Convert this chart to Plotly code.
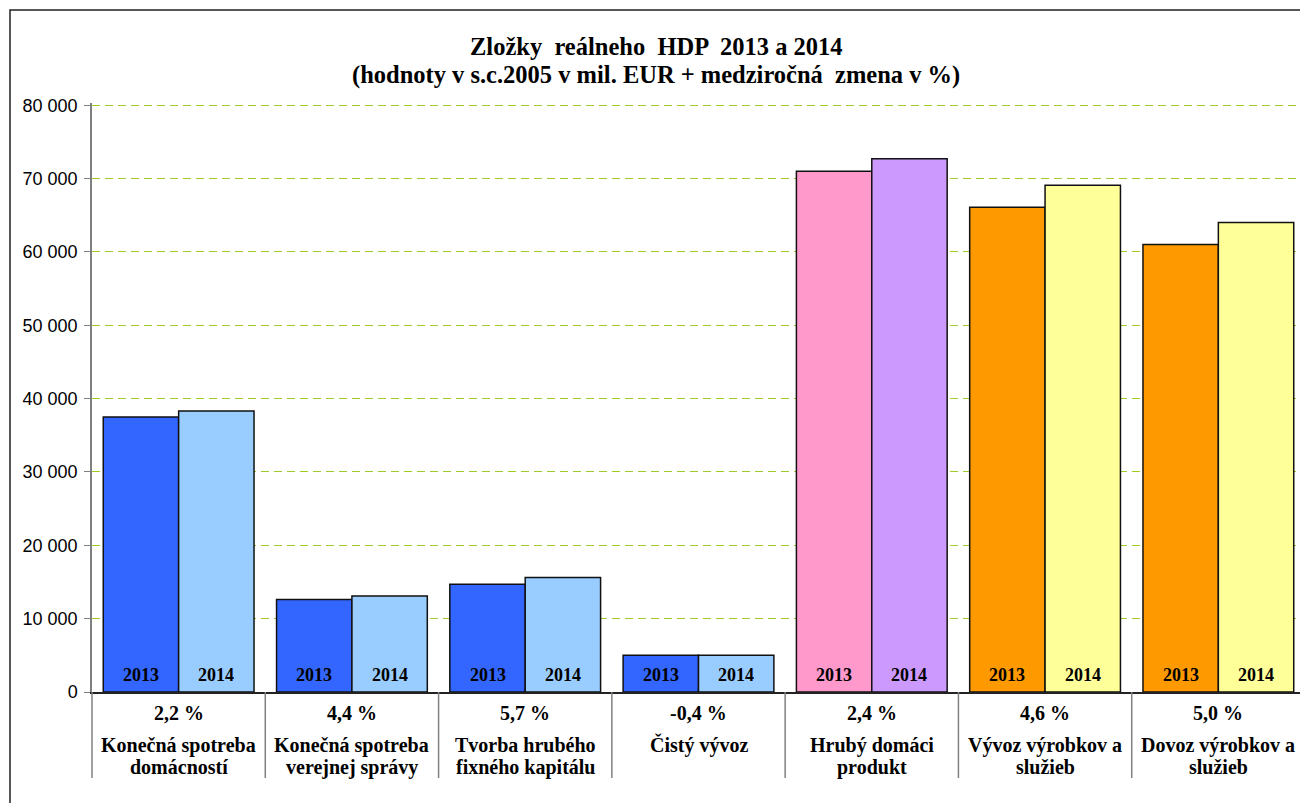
import plotly.graph_objects as go

# data
categories = ["Konečná spotreba<br>domácností", "Konečná spotreba<br>verejnej správy",
              "Tvorba hrubého<br>fixného kapitálu", "Čistý vývoz",
              "Hrubý domáci<br>produkt", "Vývoz výrobkov a<br>služieb",
              "Dovoz výrobkov a<br>služieb"]
changes = ["2,2 %", "4,4 %", "5,7 %", "-0,4 %", "2,4 %", "4,6 %", "5,0 %"]
years = ["2013", "2014"]
values_2013 = [37500, 12600, 14700, 5000, 71000, 66100, 61000]
values_2014 = [38300, 13100, 15600, 5000, 72700, 69100, 64000]
colors_2013 = ["#3366FF", "#3366FF", "#3366FF", "#3366FF", "#FF99CC", "#FF9900", "#FF9900"]
colors_2014 = ["#99CCFF", "#99CCFF", "#99CCFF", "#99CCFF", "#CC99FF", "#FFFF99", "#FFFF99"]
y_ticks = [0, 10000, 20000, 30000, 40000, 50000, 60000, 70000, 80000]
y_ticktext = ["0", "10 000", "20 000", "30 000", "40 000", "50 000", "60 000", "70 000", "80 000"]

SERIF = "Liberation Serif"
SANS = "Liberation Sans"
n = len(categories)
x = list(range(n))

# page body has an 8px margin, so the figure is sized/offset to compensate
W, H = 1300, 795
ML, MR, MT, MB = 84, 3, 95, 111
plot_w = W - ML - MR
plot_h = H - MT - MB
BARGAP = 0.13
bar_px = plot_w / n * (1 - BARGAP) / 2
X0, Y0 = 8 + ML, 8 + H - MB  # page position of plot's bottom-left corner


def px_x(p):
    return (p - X0) / plot_w


def px_y(p):
    return (Y0 - p) / plot_h


fig = go.Figure()
for year, vals, cols in [(years[0], values_2013, colors_2013), (years[1], values_2014, colors_2014)]:
    fig.add_trace(go.Bar(
        x=x, y=vals, name=year,
        marker=dict(color=cols, line=dict(color="#111111", width=1.5)),
        hovertemplate="%{y:,.0f}<extra>" + year + "</extra>",
    ))

# year labels at the foot of each bar
for i in range(n):
    for k, year in enumerate(years):
        fig.add_annotation(x=i, xref="x", y=0, yref="y", yanchor="middle",
                           xshift=(k - 0.5) * bar_px, yshift=17,
                           text="<b>" + year + "</b>", showarrow=False,
                           font=dict(family=SERIF, size=18, color="black"))

# category labels below the axis
for i in range(n):
    fig.add_annotation(x=i, xref="x", y=px_y(713), yref="paper", yanchor="middle",
                       text="<b>" + changes[i] + "</b>", showarrow=False,
                       font=dict(family=SERIF, size=20, color="black"))
    for j, line in enumerate(categories[i].split("<br>")):
        fig.add_annotation(x=i, xref="x", y=px_y(745 + 22 * j), yref="paper",
                           yanchor="middle", text="<b>" + line + "</b>", showarrow=False,
                           font=dict(family=SERIF, size=20, color="black"))

# title (two lines)
for text, ypx in [("Zložky  reálneho  HDP  2013 a 2014", 47),
                  ("(hodnoty v s.c.2005 v mil. EUR + medziročná  zmena v %)", 75)]:
    fig.add_annotation(x=px_x(656), xref="paper", y=px_y(ypx), yref="paper",
                       yanchor="middle", text="<b>" + text + "</b>", showarrow=False,
                       font=dict(family=SERIF, size=24.5, color="black"))

# divider lines between categories
for i in range(n + 1):
    fig.add_shape(type="line", xref="paper", yref="paper", x0=i / n, x1=i / n,
                  y0=0, y1=px_y(778), line=dict(color="#808080", width=1.5))

# outer frame (top and left)
fx, fy = px_x(10), px_y(10)
fig.add_shape(type="path", xref="paper", yref="paper",
              path=f"M {fx} {px_y(900)} L {fx} {fy} L {px_x(1400)} {fy}",
              line=dict(color="#222222", width=1.5))

fig.update_layout(
    width=W, height=H,
    margin=dict(l=ML, r=MR, t=MT, b=MB),
    paper_bgcolor="white", plot_bgcolor="white",
    barmode="group", bargap=BARGAP, bargroupgap=0,
    showlegend=False,
    xaxis=dict(range=[-0.5, n - 0.5], showticklabels=False, showgrid=False,
               showline=True, linecolor="#222222", linewidth=1.5, zeroline=False,
               fixedrange=True),
    yaxis=dict(range=[0, 80300], tickvals=y_ticks, ticktext=y_ticktext,
               showgrid=True, gridcolor="#9FCB2A", griddash="8px,5px", gridwidth=1.3,
               showline=True, linecolor="#808080", linewidth=1.5,
               ticks="outside", ticklen=6, tickcolor="#808080",
               ticklabelstandoff=3, zeroline=False,
               tickfont=dict(family=SANS, size=18, color="black"), fixedrange=True),
)

fig.write_html("out.html")
